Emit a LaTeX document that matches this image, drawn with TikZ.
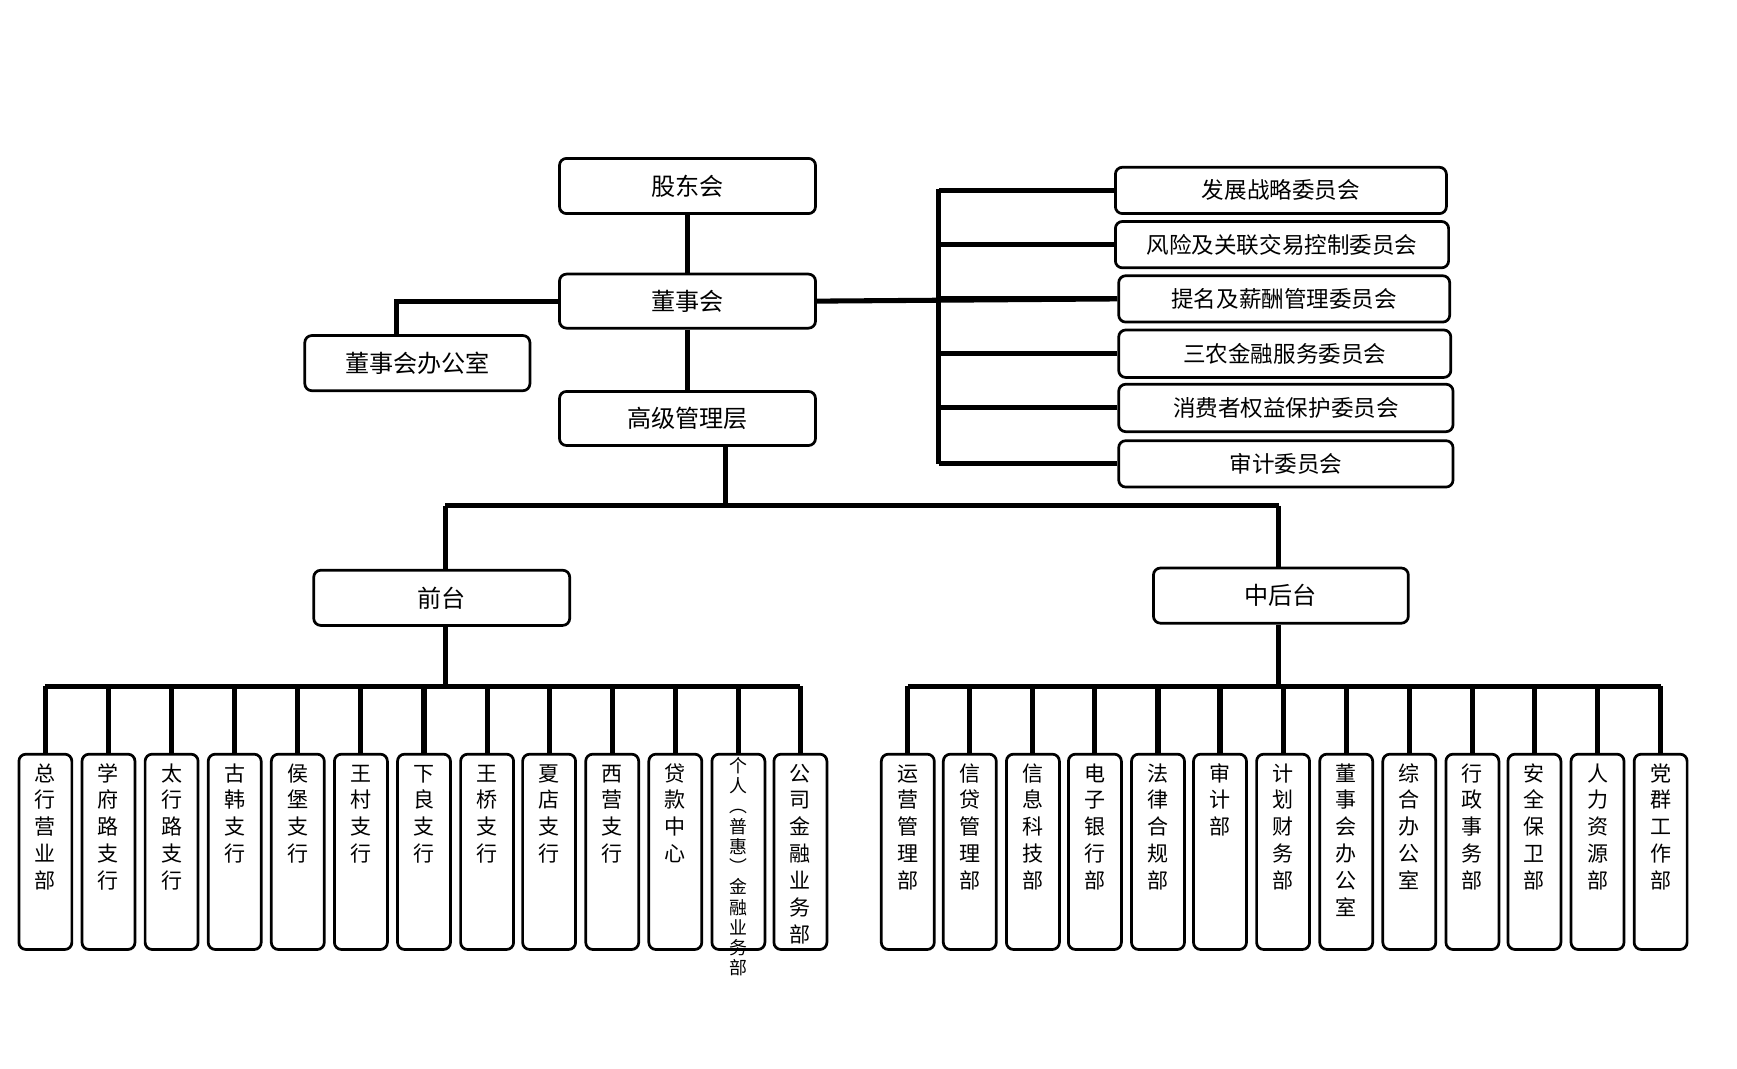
\documentclass[tikz,border=0pt]{standalone}
\usepackage{fontspec}
\setmainfont{Noto Sans CJK SC}
\ExplSyntaxOn
\NewDocumentCommand\vstk{O{34.5pt}m}{\vbox{\offinterlineskip
  \exp_args:No\tl_map_inline:nn {#2}{\hbox to 0pt{\hss\vrule height \dimexpr #1*8/10\relax depth \dimexpr #1*2/10\relax width 0pt ##1\hss}}}}
\ExplSyntaxOff
\begin{document}
\begin{tikzpicture}[x=0.05cm,y=-0.05cm,
  box/.style={draw,line width=3.5pt,rounded corners=9pt,fill=white},
  conn/.style={line width=6.5pt},
  vt/.style={anchor=north,inner sep=0pt,font=\fontsize{27}{34}\selectfont},
  tt/.style={font=\fontsize{31}{36}\selectfont}]
\useasboundingbox (0,0) rectangle (1569,965);
% top boxes
\node[box,minimum width=232*1.418pt,minimum height=50*1.418pt,tt] (gd) at (621,168) {股东会};
\node[box,minimum width=232*1.418pt,minimum height=49*1.418pt,tt] (ds) at (621,272) {董事会};
\node[box,minimum width=204*1.418pt,minimum height=50*1.418pt,tt] (dsb) at (377,328) {董事会办公室};
\node[box,minimum width=232*1.418pt,minimum height=49*1.418pt,tt] (gj) at (621,378) {高级管理层};
% committees
\coordinate (bt) at (848,171);
\coordinate (bb) at (848,419);
\foreach \n/\l/\r/\t/\b/\txt in {c1/1007/1307/151/193/发展战略委员会,c2/1007/1309/200/242/风险及关联交易控制委员会,c3/1010/1310/249/291/提名及薪酬管理委员会,c4/1010/1311/298/341/三农金融服务委员会,c5/1010/1313/347/390/消费者权益保护委员会,c6/1010/1313/398/440/审计委员会}{
  \node[box,minimum width={(\r-\l)*1.418pt},minimum height={(\b-\t)*1.418pt},font=\fontsize{29}{34}\selectfont] (\n) at ({(\l+\r)/2},{(\t+\b)/2}) {\txt};
}
\draw[conn] (bt) -- (bb);
\foreach \n in {c1,c2,c3,c4,c5,c6}{\draw[conn] (\n.west) -- (\n.west -| bt);}
\draw[conn] (ds.east) -- (c3.west);
\coordinate (dk) at (358,270);
\draw[conn] (ds.west) -- (ds.west -| dk) -- (dsb.north -| dk);
\draw[conn] (gd) -- (ds);
\draw[conn] (ds) -- (gj);
% front / back
\node[box,minimum width=232*1.418pt,minimum height=50*1.418pt,tt] (qt) at (399,540) {前台};
\node[box,minimum width=231*1.418pt,minimum height=50*1.418pt,tt] (zh) at (1157,538) {中后台};
\coordinate (g1) at (655,457);
\draw[conn] (gj.south -| g1) -- (g1);
\draw[conn] (402,457) coordinate (l1) -- (1155,457) coordinate (r1);
\draw[conn] (l1) -- (qt.north -| l1);
\draw[conn] (r1) -- (zh.north -| r1);
\coordinate (lf) at (402,620);
\coordinate (rf) at (1155,620);
\draw[conn] (qt.south -| lf) -- (lf);
\draw[conn] (zh.south -| rf) -- (rf);
\draw[conn] (41,620) -- (723,620);
\draw[conn] (820,620) -- (1500,620);
\foreach \x/\n/\txt in {41/f1/总行营业部,98/f2/学府路支行,155/f3/太行路支行,212/f4/古韩支行,269/f5/侯堡支行,326/f6/王村支行,383/f7/下良支行,440/f8/王桥支行,496/f9/夏店支行,553/f10/西营支行,610/f11/贷款中心,723/f13/公司金融业务部,
  820/b1/运营管理部,876/b2/信贷管理部,933/b3/信息科技部,989/b4/电子银行部,1046/b5/法律合规部,1102/b6/审计部,1159/b7/计划财务部,1216/b8/董事会办公室,1273/b9/综合办公室,1330/b10/行政事务部,1386/b11/安全保卫部,1443/b12/人力资源部,1500/b13/党群工作部}{
  \node[box,minimum width=48*1.418pt,minimum height=177*1.418pt,anchor=north] (\n) at (\x,680) {};
  \draw[conn] (\n.north) -- (\x,620);
  \node[vt] at (\x,686) {\vstk{\txt}};
}
\node[box,minimum width=48*1.418pt,minimum height=177*1.418pt,anchor=north] (f12) at (667,680) {};
\draw[conn] (f12.north) -- (667,620);
\node[vt,font=\fontsize{23}{26}\selectfont] at (667,683) {\vstk[26pt]{个人︵普惠︶金融业务部}};
\end{tikzpicture}
\end{document}
